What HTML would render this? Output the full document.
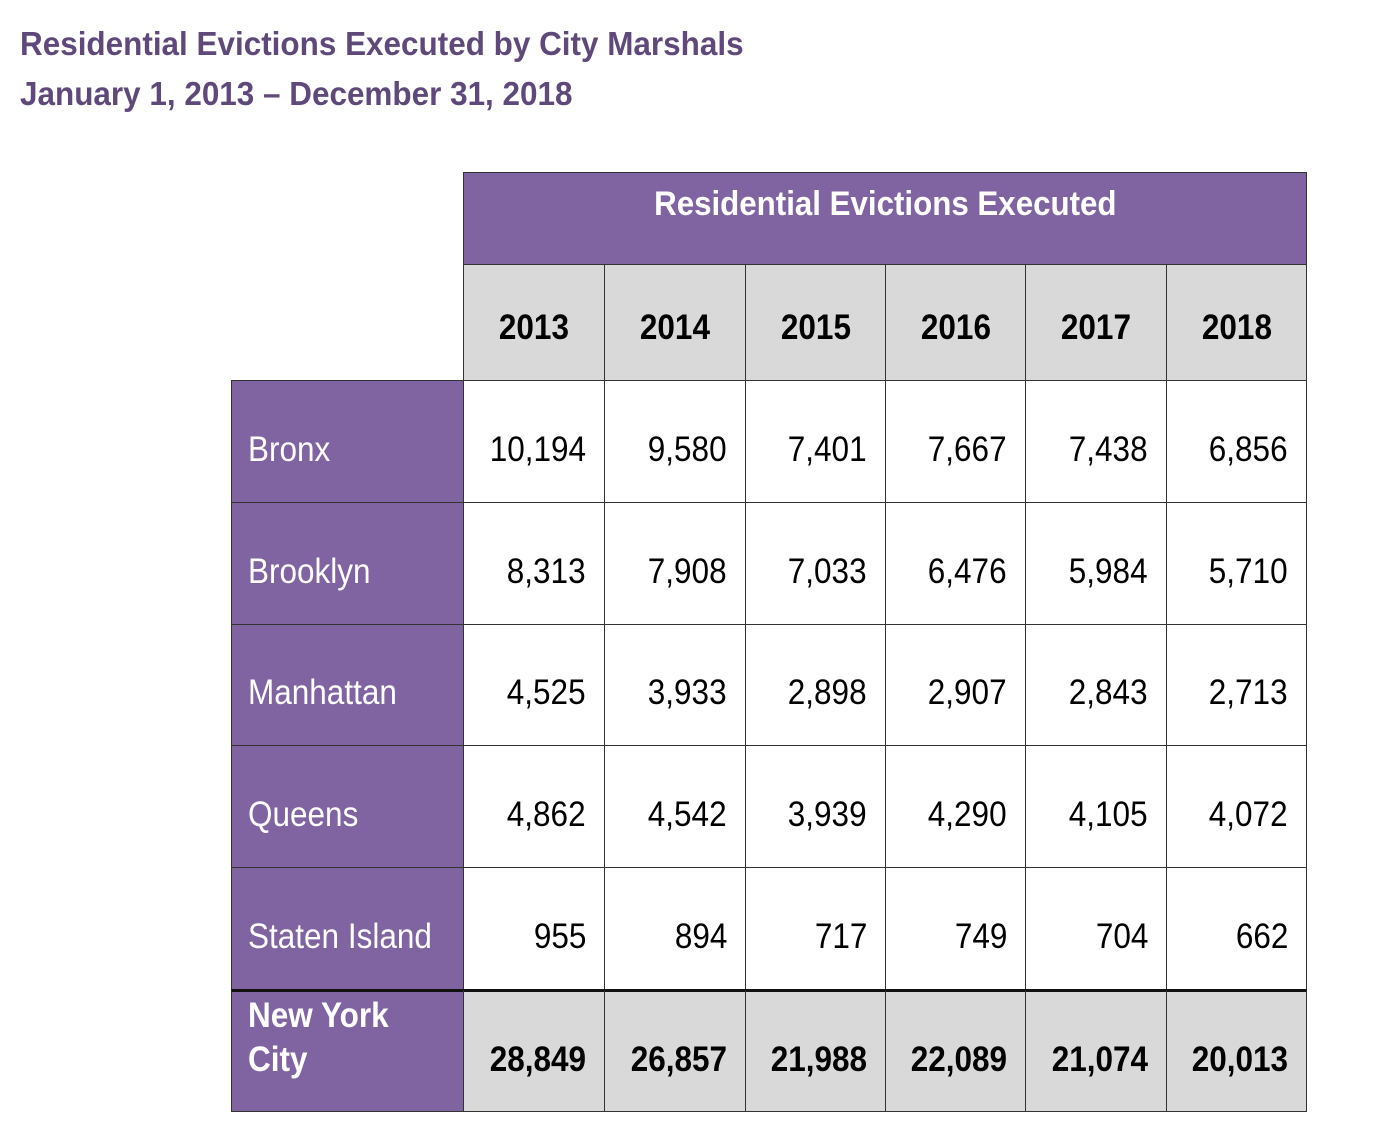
<!DOCTYPE html>
<html><head><meta charset="utf-8">
<style>
body{margin:0;width:1380px;height:1142px;background:#fff;position:relative;overflow:hidden;font-family:"Liberation Sans",Arial,sans-serif;}
.t{position:absolute;white-space:nowrap;}
.sx{display:inline-block;transform:scaleX(0.9);}
.title{color:#5f497a;font-weight:bold;font-size:33px;left:20px;}
.title .sx{transform-origin:left center;transform:scaleX(0.953);}
.box{position:absolute;box-sizing:border-box;}
</style></head><body>
<div class="t title" style="top:25px"><span class="sx">Residential Evictions Executed by City Marshals</span></div>
<div class="t title" style="top:75px"><span class="sx">January 1, 2013 – December 31, 2018</span></div>
<div id="tbl"></div>
<script>
const years=["2013","2014","2015","2016","2017","2018"];
const boroughs=["Bronx","Brooklyn","Manhattan","Queens","Staten Island"];
const bronx=[10194,9580,7401,7667,7438,6856];
const brooklyn=[8313,7908,7033,6476,5984,5710];
const manhattan=[4525,3933,2898,2907,2843,2713];
const queens=[4862,4542,3939,4290,4105,4072];
const statenIsland=[955,894,717,749,704,662];
const nycTotal=[28849,26857,21988,22089,21074,20013];
const rowsData=[bronx,brooklyn,manhattan,queens,statenIsland];

const tbl=document.getElementById('tbl');
const colX=[463,604,745,885,1025,1166,1306];
const rowY=[380,502,624,745,867,989,1111];
const fmt=v=>v.toLocaleString('en-US');
function box(x,y,w,h,bg,name){
  const d=document.createElement('div');d.className='box';
  d.style.cssText=`left:${x}px;top:${y}px;width:${w}px;height:${h}px;background:${bg};border:1px solid #333;`;
  
  
  tbl.appendChild(d);return d;
}
function txt(parent,s,css,align,name,sc){
  const t=document.createElement('div');t.className='t';
  t.style.cssText=css;
  
  
  const sp=document.createElement('span');sp.className='sx';sp.style.transformOrigin=align+' center';sp.innerHTML=s;
  if(sc)sp.style.transform='scaleX('+sc+')';
  t.appendChild(sp);parent.appendChild(t);
}
const head=box(463,172,844,93,'#8064a2','header-title-cell');
txt(head,'Residential Evictions Executed','left:0;right:0;top:12px;text-align:center;color:#fff;font-weight:bold;font-size:34px;','center','header-title',0.92);
years.forEach((y,i)=>{
  const c=box(colX[i],264,colX[i+1]-colX[i]+1,117,'#d9d9d9','year-'+y);
  txt(c,y,'left:0;right:0;top:43px;text-align:center;font-weight:bold;font-size:35px;color:#000;','center','year-label');
});
boroughs.forEach((b,r)=>{
  const y0=rowY[r],h=rowY[r+1]-y0+1;
  const lc=box(231,y0,233,h,'#8064a2','row-label-'+b.toLowerCase().replace(' ','-'));
  txt(lc,b,'left:16px;top:'+(h/2-13)+'px;color:#fff;font-size:35px;','left','borough-name');
  rowsData[r].forEach((v,i)=>{
    const c=box(colX[i],y0,colX[i+1]-colX[i]+1,h,'#fff','cell-'+b.toLowerCase().replace(' ','-')+'-'+years[i]);
    txt(c,fmt(v),'right:18px;top:'+(h/2-13)+'px;font-size:35px;color:#000;text-align:right;','right','cell-value');
  });
});
const y0=rowY[5],h=rowY[6]-y0+1;
const tl=box(231,y0,233,h,'#8064a2','row-label-nyc');
tl.style.borderTop='3px solid #111';
txt(tl,'New York<br>City','left:16px;top:2px;color:#fff;font-size:35px;font-weight:bold;line-height:44px;','left','nyc-label');
nycTotal.forEach((v,i)=>{
  const c=box(colX[i],y0,colX[i+1]-colX[i]+1,h,'#d9d9d9','total-'+years[i]);
  c.style.borderTop='3px solid #111';
  txt(c,fmt(v),'right:18px;top:'+(h/2-14)+'px;font-size:35px;font-weight:bold;color:#000;text-align:right;','right','total-value');
});
</script>
</body></html>
